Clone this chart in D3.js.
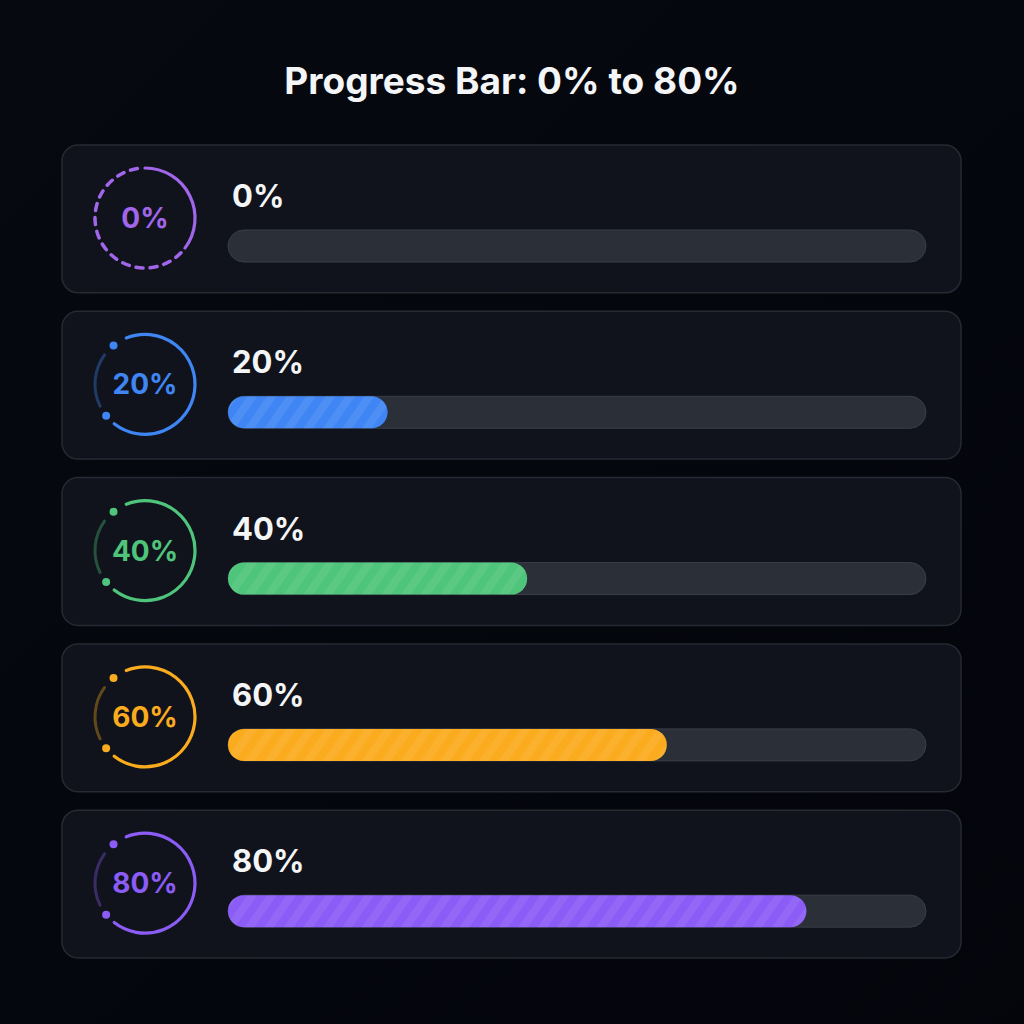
<!DOCTYPE html>
<html>
<head>
<meta charset="utf-8">
<script src="https://cdn.jsdelivr.net/npm/d3@7"></script>
<style>
  html, body { margin: 0; padding: 0; background: #05070d; }
  svg { display: block; }
</style>
</head>
<body>
<script>
// ---- data ----
const categories = ["0%", "20%", "40%", "60%", "80%"];
const values = [0, 20, 40, 60, 80];
const colors = ["#a266ea", "#3f86f4", "#4fc57b", "#fbab1e", "#8b5cf6"];
const title = "Progress Bar: 0% to 80%";

const W = 1024, H = 1024;
const svg = d3.select("body").append("svg").attr("width", W).attr("height", H);
const defs = svg.append("defs");

const bg = defs.append("linearGradient").attr("id", "bg").attr("x1", 0).attr("y1", 0).attr("x2", 1).attr("y2", 1);
bg.append("stop").attr("offset", "0%").attr("stop-color", "#070910");
bg.append("stop").attr("offset", "100%").attr("stop-color", "#03050b");
svg.append("rect").attr("width", W).attr("height", H).attr("fill", "url(#bg)");

const stripes = defs.append("pattern").attr("id", "stripes").attr("patternUnits", "userSpaceOnUse")
  .attr("width", 16).attr("height", 16).attr("patternTransform", "rotate(35)");
stripes.append("rect").attr("width", 8).attr("height", 16).attr("fill", "#ffffff").attr("opacity", 0.07);

svg.append("text").attr("x", 512).attr("y", 94).attr("text-anchor", "middle")
  .attr("font-family", "Inter, 'Noto Sans', sans-serif").attr("font-weight", 700).attr("font-size", 37)
  .attr("fill", "#f4f5f7").text(title);

const cardX = 62, cardW = 899;
const y = d3.scaleBand().domain(categories).range([145, 958]).paddingInner(0.111).paddingOuter(0);
const trackX = 228, trackW = 698, trackH = 32;
const x = d3.scaleLinear().domain([0, 100]).range([0, trackW]);
const capPad = 20;

const card = svg.selectAll("g.card").data(categories).join("g").attr("class", "card")
  .attr("transform", d => `translate(${cardX},${y(d)})`);

card.append("rect").attr("width", cardW).attr("height", y.bandwidth()).attr("rx", 16)
  .attr("fill", "#10131b").attr("stroke", "#262a33").attr("stroke-width", 1.5);

const deg = a => a * Math.PI / 180;
const R = 50;
const ring = card.append("g").attr("transform", `translate(83,${73})`);

function arcPath(a0, a1) {
  const p = d3.path();
  p.arc(0, 0, R, deg(a0 - 90), deg(a1 - 90), false);
  return p.toString();
}

ring.each(function(d, i) {
  const g = d3.select(this);
  const c = colors[i];
  if (values[i] === 0) {
    g.append("path").attr("d", arcPath(0, 127)).attr("fill", "none").attr("stroke", c)
      .attr("stroke-width", 3.2).attr("stroke-linecap", "round");
    g.append("path").attr("d", arcPath(134, 356)).attr("fill", "none").attr("stroke", c)
      .attr("stroke-width", 3.5).attr("stroke-dasharray", "7 7").attr("stroke-linecap", "round");
  } else {
    g.append("path").attr("d", arcPath(-22, 218)).attr("fill", "none").attr("stroke", c)
      .attr("stroke-width", 3.2).attr("stroke-linecap", "round");
    g.append("path").attr("d", arcPath(244, 306)).attr("fill", "none").attr("stroke", c)
      .attr("stroke-opacity", 0.35).attr("stroke-width", 3).attr("stroke-linecap", "round");
    [231, 321].forEach(a => {
      g.append("circle").attr("cx", R * Math.sin(deg(a))).attr("cy", -R * Math.cos(deg(a)))
        .attr("r", 4).attr("fill", c);
    });
  }
  g.append("text").attr("x", 0).attr("y", 10).attr("text-anchor", "middle")
    .attr("font-family", "Inter, 'Noto Sans', sans-serif").attr("font-weight", 700)
    .attr("font-size", 28).attr("fill", c).text(categories[i]);
});

card.append("text").attr("x", 232 - cardX).attr("y", 62)
  .attr("font-family", "Inter, 'Noto Sans', sans-serif").attr("font-weight", 700).attr("font-size", 31)
  .attr("fill", "#f4f5f7").text(d => d);

const track = card.append("g").attr("transform", `translate(${trackX - cardX},85)`);
track.append("rect").attr("width", trackW).attr("height", trackH).attr("rx", trackH / 2)
  .attr("fill", "#2b2f38").attr("stroke", "#3a3e48").attr("stroke-width", 1);

track.filter((d, i) => values[i] > 0).each(function(d) {
  const i = categories.indexOf(d);
  const g = d3.select(this);
  const w = x(values[i]) + capPad;
  g.append("rect").attr("width", w).attr("height", trackH).attr("rx", trackH / 2).attr("fill", colors[i]);
  g.append("rect").attr("width", w).attr("height", trackH).attr("rx", trackH / 2).attr("fill", "url(#stripes)");
});
</script>
</body>
</html>
